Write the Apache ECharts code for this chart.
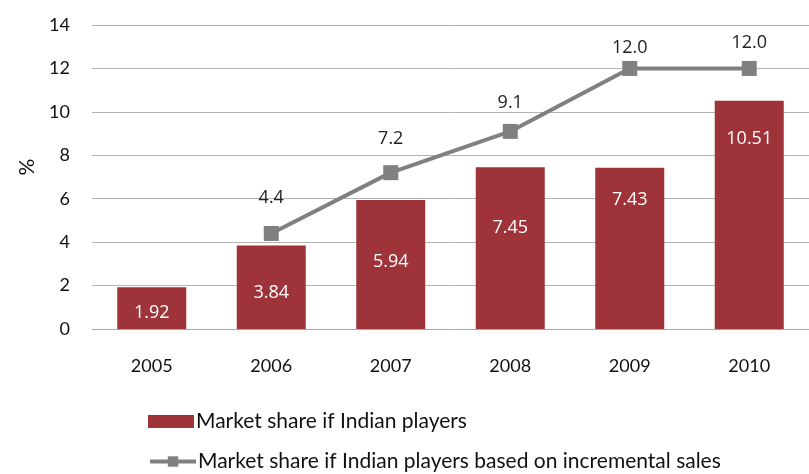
<!DOCTYPE html>
<html>
<head>
<meta charset="utf-8">
<script src="https://cdn.jsdelivr.net/npm/echarts@6/dist/echarts.min.js"></script>
<style>
  html, body { margin: 0; padding: 0; background: #ffffff; }
  #chart { width: 809px; height: 474px; }
</style>
</head>
<body>
<div id="chart"></div>
<script>
// Market share of Indian players, 2005-2010 (%)
const years = ['2005', '2006', '2007', '2008', '2009', '2010'];
const shareValues = [1.92, 3.84, 5.94, 7.45, 7.43, 10.51];
const incrementalValues = [null, 4.4, 7.2, 9.1, 12.0, 12.0];
const yTicks = [0, 2, 4, 6, 8, 10, 12, 14];

const shareName = 'Market share if Indian players';
const incrementalName = 'Market share if Indian players based on incremental sales';

// distance of each bar's value label below the bar's top edge
const barLabelDistance = [17, 38, 53, 52, 23, 29];
// distance of each line label above its marker
const lineLabelDistance = [10, 19, 17, 12, 4, 9];

const legendText = { fontSize: 21, color: '#111', fontFamily: 'Lato', padding: [0, 0, 0, -3] };

const chart = echarts.init(document.getElementById('chart'), null, { renderer: 'canvas' });

chart.setOption({
  animation: false,
  backgroundColor: '#ffffff',
  textStyle: { fontFamily: 'Lato' },
  grid: { left: 92, right: -9, top: 25, bottom: 145 },
  legend: [
    {
      left: 148, top: 411, padding: 0,
      itemWidth: 46, itemHeight: 13,
      textStyle: legendText,
      data: [{ name: shareName, icon: 'rect' }]
    },
    {
      left: 148, top: 451, padding: 0,
      itemWidth: 46, itemHeight: 13,
      textStyle: legendText,
      lineStyle: { width: 4 },
      data: [{ name: incrementalName }]
    }
  ],
  xAxis: {
    type: 'category',
    data: years,
    axisLine: { show: true, lineStyle: { color: '#a6a6a6', width: 1 } },
    axisTick: { show: false },
    axisLabel: { fontSize: 18, color: '#111', margin: 28, fontFamily: 'Lato' }
  },
  yAxis: {
    type: 'value',
    min: yTicks[0],
    max: yTicks[yTicks.length - 1],
    interval: 2,
    name: '%',
    nameLocation: 'middle',
    nameRotate: 90,
    nameGap: 51,
    nameTextStyle: { fontSize: 21, color: '#111', fontFamily: 'Lato', padding: [0, 0, 0, 20] },
    axisLine: { show: false },
    axisTick: { show: false },
    axisLabel: {
      fontSize: 18, color: '#111', margin: 22, fontFamily: 'Lato',
      formatter: v => yTicks.includes(v) ? String(v) : ''
    },
    splitLine: { lineStyle: { color: '#b3b3b3', width: 1 } }
  },
  series: [
    {
      name: shareName,
      type: 'bar',
      barWidth: 69,
      itemStyle: { color: '#9e343a' },
      data: shareValues.map((v, i) => ({
        value: v,
        label: { distance: barLabelDistance[i] }
      })),
      label: {
        show: true,
        position: 'insideTop',
        color: '#ffffff',
        fontSize: 18,
        fontFamily: 'Open Sans',
        formatter: p => p.value.toFixed(2)
      },
      z: 2
    },
    {
      name: incrementalName,
      type: 'line',
      symbol: 'rect',
      symbolSize: 15,
      lineStyle: { color: '#808080', width: 4 },
      itemStyle: { color: '#808080' },
      data: incrementalValues.map((v, i) => ({
        value: v,
        label: { distance: lineLabelDistance[i] }
      })),
      label: {
        show: true,
        position: 'top',
        color: '#222',
        fontSize: 18,
        fontFamily: 'Open Sans',
        formatter: p => p.value.toFixed(1)
      },
      z: 3
    }
  ]
});
</script>
</body>
</html>
